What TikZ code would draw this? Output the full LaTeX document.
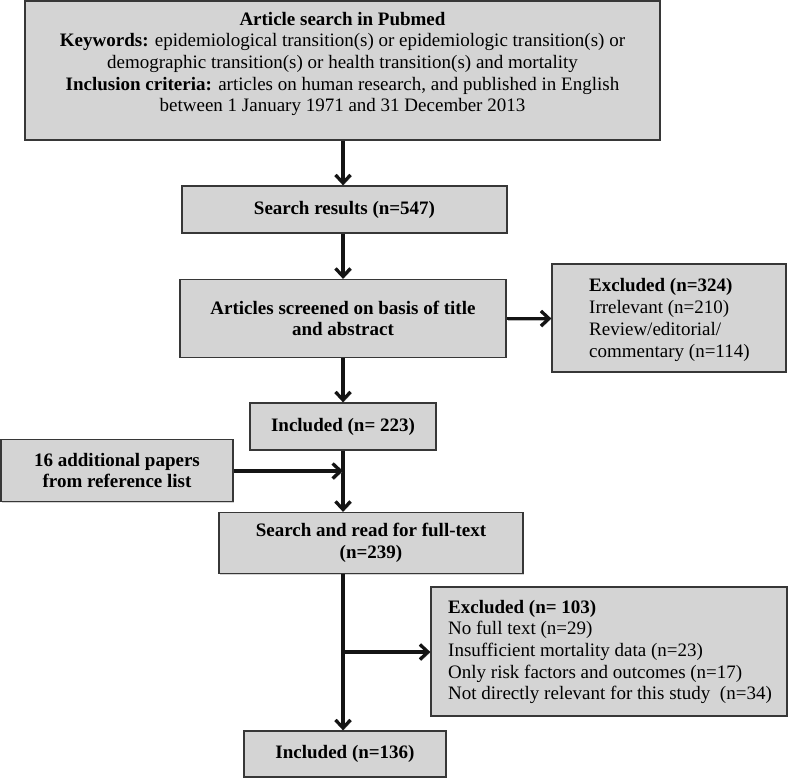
\documentclass[tikz,border=0pt]{standalone}
\usepackage{fontspec}
\setmainfont{Liberation Serif}
\usetikzlibrary{arrows.meta,shadows}
\definecolor{boxfill}{RGB}{212,212,212}
\definecolor{boxline}{RGB}{55,55,55}
\definecolor{arrowc}{RGB}{20,20,20}
\begin{document}
\begin{tikzpicture}[x=1pt,y=-1pt,
  box/.style={draw=boxline, line width=1.3pt, fill=boxfill, inner sep=0pt,
    drop shadow={shadow xshift=1pt, shadow yshift=-1pt, opacity=0.35, fill=gray}},
  txt/.style={font=\fontsize{19}{21.7}\selectfont, inner sep=0pt},
  btxt/.style={font=\fontsize{19}{21.7}\selectfont\bfseries, inner sep=0pt},
  flow/.style={draw=arrowc, line width=3.3pt, -{Straight Barb[length=8pt,width=15pt]},
    preaction={draw=gray!60, transform canvas={shift={(1.3pt,-1.3pt)}}}}]
\useasboundingbox (0,0) rectangle (788,778);

% boxes
\node[box, minimum width=635pt, minimum height=139pt] (top) at (342.5,70.5) {};
\node[txt, align=center] (toptext) at (342.5,64)
  {\textbf{Article search in Pubmed}\\
   \textbf{Keywords:} epidemiological transition(s) or epidemiologic transition(s) or\\
   demographic transition(s) or health transition(s) and mortality\\
   \textbf{Inclusion criteria:} articles on human research, and published in English\\
   between 1 January 1971 and 31 December 2013};

\node[box, btxt, minimum width=325pt, minimum height=47pt] (search) at (344.5,209.5) {Search results (n=547)};

\node[box, btxt, align=center, minimum width=326pt, minimum height=78pt] (screen) at (343,318.5)
  {Articles screened on basis of title\\and abstract};

\node[box, minimum width=234pt, minimum height=108pt] (excl1) at (669,318) {};
\node[txt, align=left, anchor=west] (excl1t) at (589,320)
  {\textbf{Excluded (n=324)}\\Irrelevant (n=210)\\Review/editorial/\\commentary (n=114)};

\node[box, btxt, minimum width=186pt, minimum height=47pt] (incl1) at (343,426.5) {Included (n=~223)};

\node[box, btxt, align=center, minimum width=232pt, minimum height=62pt] (add) at (117,470.5)
  {16 additional papers\\from reference list};

\node[box, btxt, align=center, minimum width=304pt, minimum height=61pt] (read) at (371,543)
  {Search and read for full-text\\(n=239)};

\node[box, minimum width=356pt, minimum height=129pt] (excl2) at (609,651.5) {};
\node[txt, align=left, anchor=west] (excl2t) at (448,652)
  {\textbf{Excluded (n=~103)}\\No full text (n=29)\\Insufficient mortality data (n=23)\\Only risk factors and outcomes (n=17)\\Not directly relevant for this study\ \ (n=34)};

\node[box, btxt, minimum width=202pt, minimum height=46pt] (incl2) at (345,754) {Included (n=136)};

% junction points on the spine
\coordinate (j1) at (343,471);
\coordinate (j2) at (343,652);

% connectors
\draw[flow] (top.south -| j1) -- (search.north -| j1);
\draw[flow] (search.south -| j1) -- (screen.north -| j1);
\draw[flow] (screen.east) -- (excl1.west |- screen.east);
\draw[flow] (screen.south -| j1) -- (incl1.north -| j1);
\draw[flow] (incl1.south -| j1) -- (read.north -| j1);
\draw[flow] (add.east |- j1) -- (j1);
\draw[flow] (read.south -| j1) -- (incl2.north -| j1);
\draw[flow] (j2) -- (excl2.west |- j2);
\end{tikzpicture}
\end{document}
